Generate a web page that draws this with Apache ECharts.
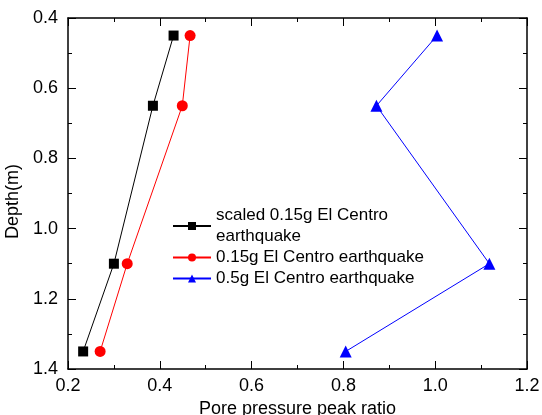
<!DOCTYPE html>
<html><head><meta charset="utf-8">
<script src="https://cdn.jsdelivr.net/npm/echarts@6/dist/echarts.min.js"></script>
<style>html,body{margin:0;padding:0;background:#fff}#c{width:542px;height:415px}</style>
</head><body><div id="c"></div>
<script>
const depth = [0.45, 0.65, 1.1, 1.35];
const scaled015 = [0.43, 0.385, 0.30, 0.233];
const g015 = [0.466, 0.449, 0.329, 0.27];
const g05 = [1.004, 0.872, 1.118, 0.805];
const seriesNames = ['scaled 0.15g El Centro\nearthquake', '0.15g El Centro earthquake', '0.5g El Centro earthquake'];
const xTicks = {min: 0.2, max: 1.2, interval: 0.2};
const yTicks = {min: 0.4, max: 1.4, interval: 0.2};

const font = 'Liberation Sans, Arial, sans-serif';
function pairs(xs){ return xs.map((v,i)=>[v, depth[i]]); }
const chart = echarts.init(document.getElementById('c'), null, {renderer:'canvas'});
const axisCommon = {
  axisLine:{show:true, lineStyle:{color:'#000', width:1.5}},
  axisTick:{show:true, inside:true, length:8, lineStyle:{color:'#000', width:1}},
  minorTick:{show:true, splitNumber:2, length:4, lineStyle:{color:'#000', width:1}},
  splitLine:{show:false}
};
chart.setOption({
  animation:false,
  grid:{left:68, right:15, top:18, bottom:46, containLabel:false, outerBoundsMode:'none'},
  xAxis:[
    Object.assign({type:'value', position:'bottom', min:xTicks.min, max:xTicks.max, interval:xTicks.interval,
      name:'Pore pressure peak ratio', nameLocation:'middle', nameGap:28,
      nameTextStyle:{fontFamily:font, fontSize:18, color:'#000'},
      axisLabel:{fontFamily:font, fontSize:18, color:'#000', margin:8, formatter:v=>v.toFixed(1)}}, axisCommon),
    Object.assign({type:'value', position:'top', min:xTicks.min, max:xTicks.max, interval:xTicks.interval,
      axisLabel:{show:false}}, axisCommon)
  ],
  yAxis:[
    Object.assign({type:'value', position:'left', inverse:true, min:yTicks.min, max:yTicks.max, interval:yTicks.interval,
      name:'Depth(m)', nameLocation:'middle', nameGap:40,
      nameTextStyle:{fontFamily:font, fontSize:18, color:'#000', padding:[0, 16, 0, 0]},
      axisLabel:{fontFamily:font, fontSize:18, color:'#000', margin:10, formatter:v=>v.toFixed(1)}}, axisCommon),
    Object.assign({type:'value', position:'right', inverse:true, min:yTicks.min, max:yTicks.max, interval:yTicks.interval,
      axisLabel:{show:false}}, axisCommon)
  ],
  legend:{
    left:167, top:200, orient:'vertical', itemWidth:38, itemHeight:10, itemGap:0,
    textStyle:{fontFamily:font, fontSize:17, color:'#000', lineHeight:21},
    data:seriesNames
  },
  series:[
    {name:seriesNames[0], type:'line', data:pairs(scaled015), symbol:'rect', symbolSize:10,
      itemStyle:{color:'#000'}, lineStyle:{color:'#000', width:1}},
    {name:seriesNames[1], type:'line', data:pairs(g015), symbol:'circle', symbolSize:11,
      itemStyle:{color:'#ff0000'}, lineStyle:{color:'#ff0000', width:1}},
    {name:seriesNames[2], type:'line', data:pairs(g05), symbol:'triangle', symbolSize:12,
      itemStyle:{color:'#0000ff'}, lineStyle:{color:'#0000ff', width:1}}
  ]
});
</script></body></html>
